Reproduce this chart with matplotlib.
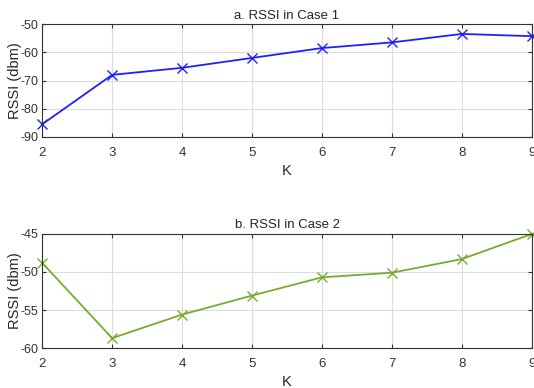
import matplotlib.pyplot as plt

plt.rcParams['font.family'] = ['Liberation Sans', 'DejaVu Sans']
plt.rcParams['axes.unicode_minus'] = False

k = [2, 3, 4, 5, 6, 7, 8, 9]
rssi_case1 = [-85.5, -68.0, -65.5, -62.0, -58.5, -56.5, -53.5, -54.3]
rssi_case2 = [-48.8, -58.7, -55.6, -53.1, -50.7, -50.1, -48.3, -45.0]

fig = plt.figure(figsize=(5.34, 3.88), dpi=100)
ax1 = fig.add_axes([0.079, 0.647, 0.917, 0.291])
ax2 = fig.add_axes([0.079, 0.103, 0.917, 0.294])


def style(ax, title, ylim, yticks):
    ax.set_xlim(2, 9)
    ax.set_ylim(*ylim)
    ax.set_xticks(k)
    ax.set_yticks(yticks)
    ax.grid(True, color='#dcdcdc', linewidth=0.8)
    ax.set_axisbelow(True)
    ax.tick_params(direction='in', top=True, right=True, length=3,
                   labelsize=9.5, colors='#333333', width=0.8)
    ax.tick_params(axis='x', pad=7)
    ax.tick_params(axis='y', pad=3, labelsize=9)
    for s in ax.spines.values():
        s.set_color('#333333')
        s.set_linewidth(0.8)
    ax.set_title(title, fontsize=9.5, color='#262626', pad=4)
    ax.set_xlabel('K', fontsize=10.5, color='#262626', labelpad=4)
    ax.set_ylabel('RSSI (dbm)', fontsize=10.5, color='#262626')
    ax.yaxis.set_label_coords(-0.042, 0.5)


ax1.plot(k, rssi_case1, color='#1f1fff', marker='x', markersize=6.5,
         linewidth=1.3, clip_on=False)
style(ax1, 'a. RSSI in Case 1', (-90, -50), [-90, -80, -70, -60, -50])

ax2.plot(k, rssi_case2, color='#77ac30', marker='x', markersize=6.5,
         linewidth=1.3, clip_on=False)
style(ax2, 'b. RSSI in Case 2', (-60, -45), [-60, -55, -50, -45])

fig.savefig('out.png', dpi=100)
